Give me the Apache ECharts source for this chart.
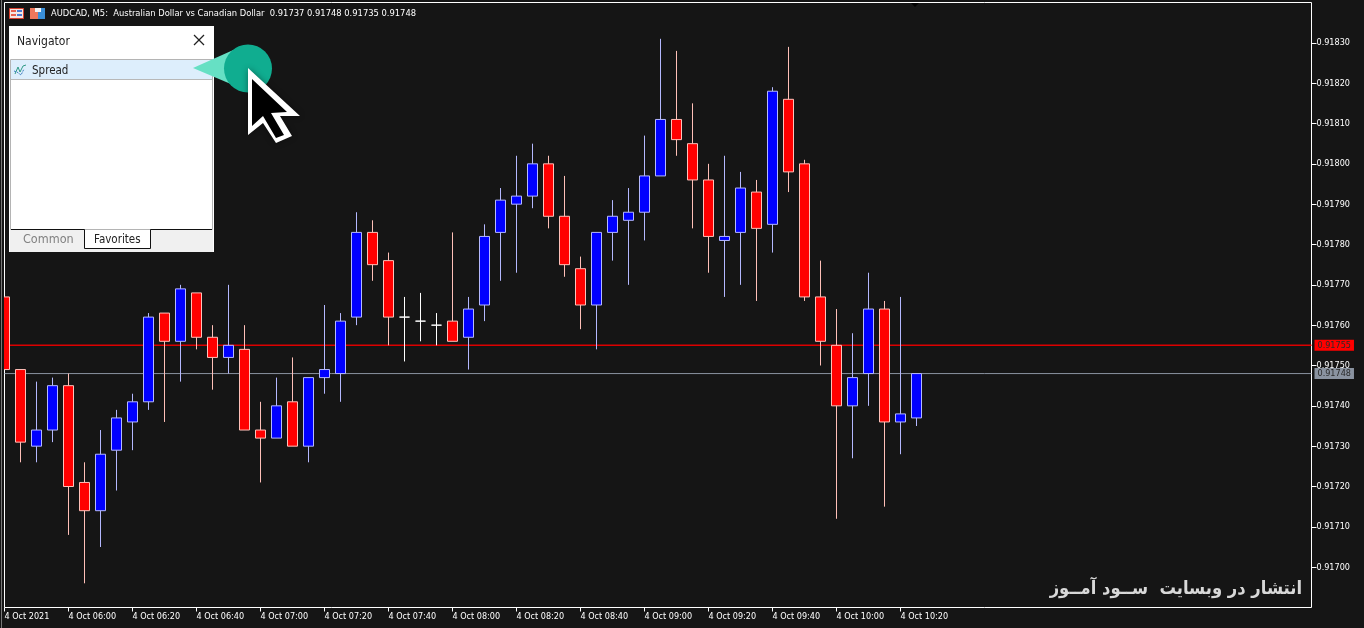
<!DOCTYPE html>
<html>
<head>
<meta charset="utf-8">
<style>
html, body { margin: 0; padding: 0; background: #151515; }
#chart { width: 1364px; height: 628px; }
</style>
<script src="https://cdn.jsdelivr.net/npm/echarts@6/dist/echarts.min.js"></script>
</head>
<body>
<div id="chart"></div>
<script>
// AUDCAD M5 bars
var opens = [0.91767,0.91749,0.91730,0.91734,0.91745,0.91721,0.91714,0.91729,0.91736,0.91741,0.91763,0.91756,0.91768,0.91757,0.91752,0.91754,0.91734,0.91732,0.91741,0.91730,0.91747,0.91748,0.91762,0.91783,0.91776,0.91762,0.91761,0.91760,0.91761,0.91757,0.91765,0.91783,0.91790,0.91792,0.91800,0.91787,0.91774,0.91765,0.91783,0.91786,0.91788,0.91797,0.91811,0.91805,0.91796,0.91781,0.91783,0.91793,0.91785,0.91816,0.91800,0.91767,0.91755,0.91740,0.91748,0.91764,0.91736,0.91737];
var closes = [0.91749,0.91731,0.91734,0.91745,0.91720,0.91714,0.91728,0.91737,0.91741,0.91762,0.91756,0.91769,0.91757,0.91752,0.91755,0.91734,0.91732,0.91740,0.91730,0.91747,0.91749,0.91761,0.91783,0.91775,0.91762,0.91762,0.91761,0.91760,0.91756,0.91764,0.91782,0.91791,0.91792,0.91800,0.91787,0.91775,0.91765,0.91783,0.91787,0.91788,0.91797,0.91811,0.91806,0.91796,0.91782,0.91782,0.91794,0.91784,0.91818,0.91798,0.91767,0.91756,0.91740,0.91747,0.91764,0.91736,0.91738,0.91748];
var lows = [0.91749,0.91726,0.91726,0.91731,0.91708,0.91696,0.91705,0.91719,0.91729,0.91739,0.91736,0.91746,0.91754,0.91744,0.91748,0.91734,0.91721,0.91732,0.91730,0.91726,0.91743,0.91741,0.91760,0.91771,0.91755,0.91751,0.91756,0.91755,0.91756,0.91749,0.91761,0.91771,0.91773,0.91789,0.91784,0.91772,0.91759,0.91754,0.91776,0.91770,0.91781,0.91797,0.91802,0.91784,0.91773,0.91767,0.91770,0.91766,0.91778,0.91793,0.91766,0.91750,0.91712,0.91727,0.91740,0.91715,0.91728,0.91735];
var highs = [0.91767,0.91749,0.91746,0.91747,0.91748,0.91726,0.91734,0.91739,0.91743,0.91763,0.91763,0.91770,0.91768,0.91760,0.91770,0.91760,0.91741,0.91747,0.91752,0.91747,0.91765,0.91763,0.91788,0.91786,0.91778,0.91767,0.91768,0.91763,0.91783,0.91767,0.91785,0.91794,0.91802,0.91805,0.91802,0.91797,0.91777,0.91783,0.91791,0.91794,0.91807,0.91831,0.91828,0.91815,0.91800,0.91802,0.91798,0.91796,0.91819,0.91829,0.91801,0.91776,0.91764,0.91758,0.91773,0.91766,0.91767,0.91748];
var timeLabels = ['4 Oct 2021','4 Oct 06:00','4 Oct 06:20','4 Oct 06:40','4 Oct 07:00','4 Oct 07:20','4 Oct 07:40','4 Oct 08:00','4 Oct 08:20','4 Oct 08:40','4 Oct 09:00','4 Oct 09:20','4 Oct 09:40','4 Oct 10:00','4 Oct 10:20'];
var timeTicks = [0,4,8,12,16,20,24,28,32,36,40,44,48,52,56];
var priceTicks = [0.917,0.9171,0.9172,0.9173,0.9174,0.9175,0.9176,0.9177,0.9178,0.9179,0.918,0.9181,0.9182,0.9183];
var bidPrice = 0.91748;
var askPrice = 0.91755;

var uiFont = '"DejaVu Sans Condensed", "Liberation Sans", Arial, sans-serif';
var xMax = 1307 / 16;
var myChart = echarts.init(document.getElementById('chart'));

var candles = opens.map(function(o, i) {
	return [i, o, closes[i], lows[i], highs[i]];
});

// horizontal price line with its box at the axis
function priceLine(value, color, boxColor, lineWidth) {
	return {
		type: 'line',
		z: 1,
		showSymbol: false,
		silent: true,
		data: [[0, value], [xMax, value]],
		lineStyle: { color: color, width: lineWidth },
		endLabel: {
			show: true,
			distance: 3,
			formatter: value.toFixed(5),
			color: '#2a2a2a',
			fontSize: 9,
			fontFamily: uiFont,
			backgroundColor: boxColor,
			padding: [1, 3, 1, 3]
		}
	};
}

var panel = [
	// strip left of the frame, also hides the half of the first candle outside it
	{ type: 'rect', shape: { x: 0, y: 0, width: 4, height: 628 }, style: { fill: '#151515' } },
	{ type: 'line', shape: { x1: 1.5, y1: 0, x2: 1.5, y2: 628 }, style: { stroke: '#777777' } },
	{ type: 'polygon', shape: { points: [[911, 3], [919, 3], [915, 7]] }, style: { fill: '#000000' } },
	// title bar icons
	{ type: 'rect', shape: { x: 9.5, y: 8.5, width: 14, height: 10 }, style: { fill: '#f6e6e2', stroke: '#d8402f' } },
	{ type: 'rect', shape: { x: 11, y: 10, width: 5, height: 2 }, style: { fill: '#e8604c' } },
	{ type: 'rect', shape: { x: 17, y: 10, width: 5, height: 2 }, style: { fill: '#4a78d0' } },
	{ type: 'rect', shape: { x: 11, y: 14, width: 5, height: 2 }, style: { fill: '#e8604c' } },
	{ type: 'rect', shape: { x: 17, y: 14, width: 5, height: 2 }, style: { fill: '#4a78d0' } },
	{ type: 'rect', shape: { x: 30, y: 8, width: 8, height: 11 }, style: { fill: '#f0785c' } },
	{ type: 'rect', shape: { x: 38, y: 8, width: 7, height: 11 }, style: { fill: '#3a8fd8' } },
	{ type: 'rect', shape: { x: 35, y: 8, width: 6, height: 4 }, style: { fill: '#f4f4f4' } },
	{ type: 'text', style: { x: 51, y: 14, text: 'AUDCAD, M5:  Australian Dollar vs Canadian Dollar  0.91737 0.91748 0.91735 0.91748', fill: '#ffffff', font: '9.3px ' + uiFont, textVerticalAlign: 'middle' } },
	// navigator window
	{ type: 'rect', shape: { x: 9, y: 26, width: 205, height: 226 }, style: { fill: '#ffffff' } },
	{ type: 'rect', shape: { x: 10.5, y: 59.5, width: 202, height: 170 }, style: { fill: '#ffffff', stroke: '#b4b4b4' } },
	{ type: 'rect', shape: { x: 11, y: 60, width: 201, height: 19 }, style: { fill: '#ddeefc' } },
	{ type: 'line', shape: { x1: 11, y1: 79.5, x2: 212, y2: 79.5 }, style: { stroke: '#b8b8b8' } },
	{ type: 'text', style: { x: 17, y: 42, text: 'Navigator', fill: '#222222', font: '12px ' + uiFont, textVerticalAlign: 'middle' } },
	{ type: 'polyline', shape: { points: [[194, 35], [204, 45]] }, style: { stroke: '#222222', fill: null, lineWidth: 1.2 } },
	{ type: 'polyline', shape: { points: [[204, 35], [194, 45]] }, style: { stroke: '#222222', fill: null, lineWidth: 1.2 } },
	{ type: 'polyline', shape: { points: [[15, 74], [18, 67], [20, 72], [23, 66], [26, 65]] }, style: { stroke: '#2f9a86', fill: null, lineWidth: 1 } },
	{ type: 'polyline', shape: { points: [[14, 71], [17, 72], [21, 75], [24, 69]] }, style: { stroke: '#3f7fc0', fill: null, lineWidth: 1, lineDash: [2, 1] } },
	{ type: 'text', style: { x: 32, y: 71, text: 'Spread', fill: '#222222', font: '11.5px ' + uiFont, textVerticalAlign: 'middle' } },
	{ type: 'rect', shape: { x: 10, y: 230, width: 203, height: 22 }, style: { fill: '#f0f0f0' } },
	{ type: 'rect', shape: { x: 85, y: 230, width: 66, height: 18 }, style: { fill: '#ffffff' } },
	{ type: 'polyline', shape: { points: [[11, 229.5], [84.5, 229.5], [84.5, 248.5], [150.5, 248.5], [150.5, 229.5], [212, 229.5]] }, style: { stroke: '#111111', fill: null } },
	{ type: 'text', style: { x: 23, y: 240, text: 'Common', fill: '#808080', font: '12.5px ' + uiFont, textVerticalAlign: 'middle' } },
	{ type: 'text', style: { x: 94, y: 240, text: 'Favorites', fill: '#222222', font: '11.5px ' + uiFont, textVerticalAlign: 'middle' } },
	// pointer callout
	{ type: 'polygon', shape: { points: [[193, 68], [240, 47], [245, 90]] }, style: { fill: '#66e0c4' } },
	{ type: 'circle', shape: { cx: 248, cy: 68.5, r: 24 }, style: { fill: '#10ad90' } },
	{ type: 'polygon', shape: { points: [[248, 68], [300, 116], [280, 116], [292, 136], [276, 143], [263, 123], [248, 135]] }, style: { fill: '#ffffff', shadowBlur: 6, shadowColor: 'rgba(0,0,0,0.4)' } },
	{ type: 'polygon', shape: { points: [[252, 79], [287, 112], [271, 113], [284, 135], [276, 138], [263, 116], [252, 126]] }, style: { fill: '#000000' } },
	// watermark
	{ type: 'text', x: 1302, y: 589, scaleX: 0.91, style: { x: 0, y: 0, text: 'انتشار در وبسایت  ســود آمــوز', fill: '#d8d8d8', font: 'bold 18px "DejaVu Sans"', textAlign: 'right', textVerticalAlign: 'middle' } }
];

var option = {
	backgroundColor: '#151515',
	animation: false,
	grid: {
		left: 4.5,
		top: 2.5,
		width: 1307,
		height: 605,
		show: true,
		backgroundColor: 'transparent',
		borderColor: '#ffffff',
		borderWidth: 1
	},
	xAxis: {
		type: 'value',
		min: 0,
		max: xMax,
		splitLine: { show: false },
		axisLine: { show: false, onZero: false },
		axisTick: { show: true, length: 4, customValues: timeTicks, lineStyle: { color: '#ffffff' } },
		axisLabel: {
			customValues: timeTicks,
			align: 'left',
			margin: 5,
			color: '#ffffff',
			fontSize: 9,
			fontFamily: uiFont,
			formatter: function(value) {
				return timeLabels[timeTicks.indexOf(value)];
			}
		}
	},
	yAxis: {
		type: 'value',
		position: 'right',
		min: 0.9169,
		max: 0.9184,
		interval: 0.0001,
		splitLine: { show: false },
		axisLine: { show: false, onZero: false },
		axisTick: { show: true, length: 5, customValues: priceTicks, lineStyle: { color: '#ffffff' } },
		axisLabel: {
			customValues: priceTicks,
			margin: 5,
			color: '#ffffff',
			fontSize: 9,
			fontFamily: uiFont,
			formatter: function(value) {
				return value.toFixed(5);
			}
		}
	},
	series: [
		// price lines sit behind the candles
		priceLine(askPrice, '#dc0000', '#ff0000', 1.5),
		priceLine(bidPrice, '#8a93a0', '#8a93a0', 1),
		{
			type: 'candlestick',
			z: 2,
			barWidth: 10,
			clip: true,
			data: candles,
			itemStyle: {
				color: '#0000ff',
				color0: '#ff0000',
				borderColor: '#b4b8ff',
				borderColor0: '#ffc0b8',
				borderColorDoji: '#ffffff',
				borderWidth: 1
			}
		}
	],
	graphic: panel.map(function(el) {
		el.silent = true;
		el.z = 100;
		return el;
	})
};
myChart.setOption(option);
</script>
</body>
</html>
